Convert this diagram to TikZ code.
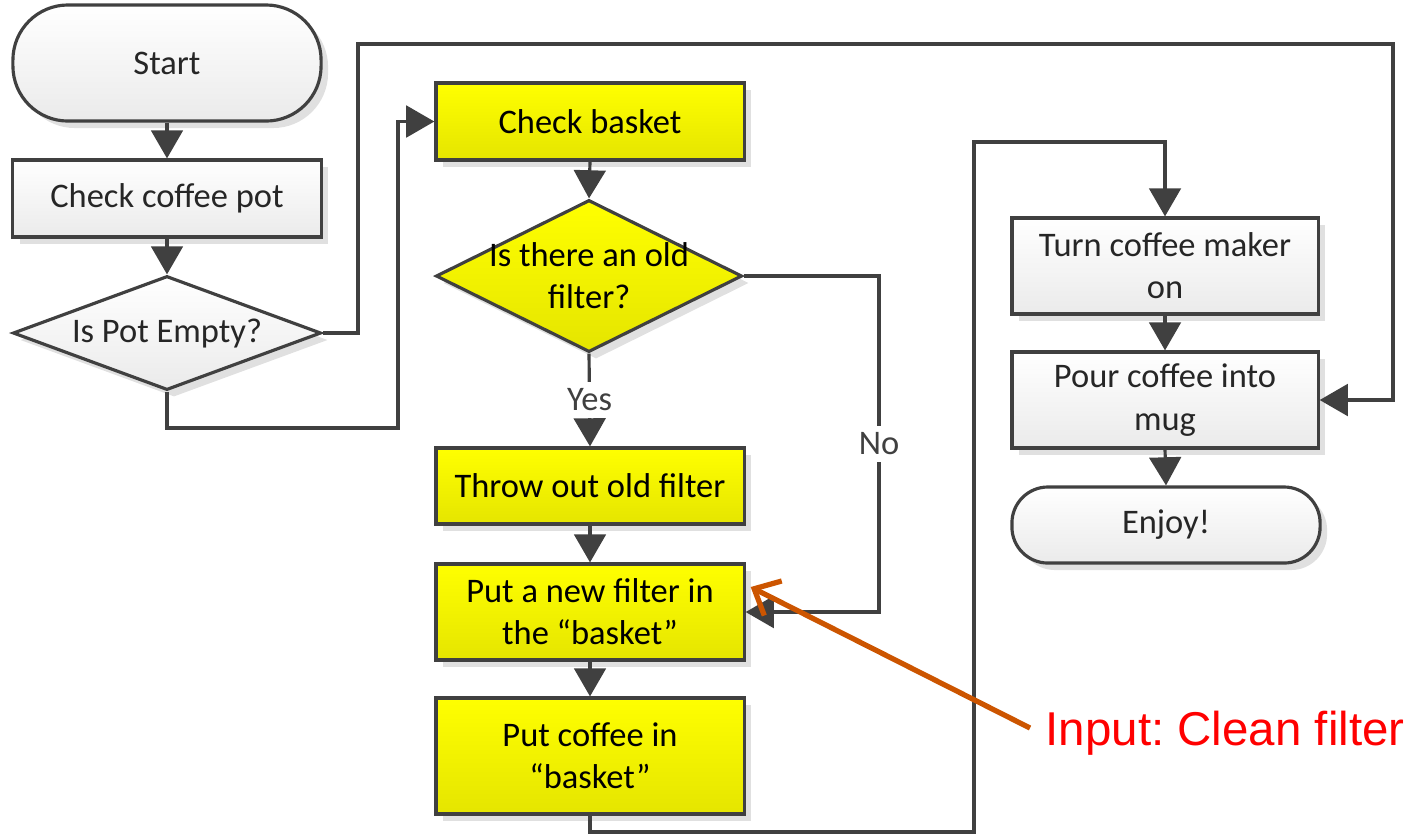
\documentclass[tikz,border=0pt]{standalone}
\usepackage{fontspec}
\setmainfont{Carlito}
\newfontfamily\arialfont{Liberation Sans}
\usetikzlibrary{shapes.geometric,arrows.meta,shadows}
\frenchspacing
\definecolor{edge}{HTML}{404040}
\definecolor{ylw}{HTML}{FFFF00}
\definecolor{ylwd}{HTML}{E5E500}
\definecolor{orng}{RGB}{204,85,0}
\definecolor{redtxt}{HTML}{FF0000}
\tikzset{
  base/.style={draw=edge, line width=0.9pt, inner sep=0pt, align=center,
    font=\fontsize{9.8}{12}\selectfont, text=black!85,
    drop shadow={shadow xshift=0.07cm, shadow yshift=-0.07cm, fill=black!12, opacity=1}},
  grayfill/.style={top color=white, bottom color=black!8},
  yfill/.style={top color=ylw, bottom color=ylwd, text=black},
  procbox/.style={base, rectangle, minimum width=3.08cm},
  termbox/.style={base, rectangle, minimum width=3.08cm},
  decbox/.style={base, diamond, minimum width=3.08cm},
  txt/.style={align=center, font=\fontsize{9.8}{12}\selectfont, inner sep=0pt},
  arr/.style={draw=edge, line width=0.9pt, -{Triangle[length=8pt,width=9pt]}},
  yn/.style={fill=white, font=\fontsize{9.8}{12}\selectfont, text=edge, inner sep=2pt},
  orngarr/.style={draw=orng, line width=1.5pt, -{Straight Barb[length=6pt,width=11pt]}}
}
\begin{document}
\begin{tikzpicture}[x=0.01cm,y=-0.01cm]
\useasboundingbox (0,0) rectangle (1413,835);
% left column
\node[termbox, grayfill, minimum height=1.16cm, rounded corners=0.55cm] (start) at (167,63) {Start};
\node[procbox, grayfill, minimum height=0.77cm] (pot) at (167,198.5) {Check coffee pot};
\node[decbox, grayfill, minimum height=1.14cm] (empty) at (167,333) {};
\node[txt, text=black!85] (emptyt) at (empty) {Is Pot Empty?};
% middle column
\node[procbox, yfill, minimum height=0.77cm] (basket) at (590,121.5) {Check basket};
\node[decbox, yfill, minimum width=3.06cm, minimum height=1.52cm] (old) at (589,276) {};
\node[txt] (oldt) at (old) {Is there an old\\filter?};
\node[procbox, yfill, minimum height=0.76cm] (throw) at (590,486) {Throw out old filter};
\node[procbox, yfill, minimum height=0.96cm] (newf) at (590,612) {Put a new filter in\\the “basket”};
\node[procbox, yfill, minimum height=1.16cm] (putc) at (590,756) {Put coffee in\\“basket”};
% right column
\node[procbox, grayfill, minimum width=3.06cm, minimum height=0.96cm] (turn) at (1165,266) {Turn coffee maker\\on};
\node[procbox, grayfill, minimum width=3.06cm, minimum height=0.96cm] (pour) at (1165,400) {Pour coffee into\\mug};
\node[termbox, grayfill, minimum height=0.76cm, rounded corners=0.36cm] (enjoy) at (1166,525) {Enjoy!};
% annotation
\node[anchor=west, inner sep=0pt, text=redtxt, font=\arialfont\fontsize{13.5}{16}\selectfont] (input) at (1045,733) {Input: Clean filter};

% connectors
\draw[arr] (start.south) -- (pot.north);
\draw[arr] (pot.south) -- (empty.north);
\draw[arr] (empty.east) -- (358,333) -- (358,44) -- (1393,44) -- (1393,400) -- (pour.east);
\draw[arr] (empty.south) -- (167,428) -- (398,428) -- (398,121.5) -- (basket.west);
\draw[arr] (basket.south) -- (old.north);
\draw[arr] (old.south) -- node[yn] (yes) {Yes} (throw.north);
\draw[arr] (old.east) -- (879,276) -- node[yn] (no) {No} (879,612) -- (newf.east);
\draw[arr] (throw.south) -- (newf.north);
\draw[arr] (newf.south) -- (putc.north);
\draw[arr] (putc.south) -- (590,832) -- (974,832) -- (974,142) -- (1165,142) -- (turn.north);
\draw[arr] (turn.south) -- (pour.north);
\draw[arr] (pour.south) -- (enjoy.north);
\draw[orngarr] ([xshift=-0.15cm, yshift=0.05cm]input.west) -- ([xshift=0.05cm, yshift=0.25cm]newf.east);
\end{tikzpicture}
\end{document}
